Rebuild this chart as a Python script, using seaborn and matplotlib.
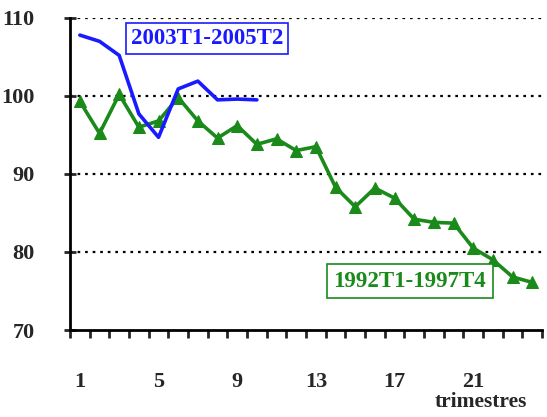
import numpy as np
import pandas as pd
import matplotlib
matplotlib.use("Agg")
import matplotlib.pyplot as plt
import seaborn as sns

# Data
quarters_green = list(range(1, 25))
green_values = [99.3, 95.2, 100.2, 96.0, 96.8, 99.8, 96.8, 94.6, 96.2, 93.8, 94.5, 93.0,
                93.5, 88.3, 85.8, 88.2, 86.9, 84.2, 83.8, 83.7, 80.5, 79.0, 76.8, 76.1]
quarters_blue = list(range(1, 11))
blue_values = [107.8, 107.0, 105.2, 97.7, 94.7, 100.9, 101.9, 99.5, 99.6, 99.5]
label_green = "1992T1-1997T4"
label_blue = "2003T1-2005T2"
x_ticks = [1, 5, 9, 13, 17, 21]
y_ticks = [70, 80, 90, 100, 110]

sns.set_style("white")
plt.rcParams['font.family'] = ['Liberation Serif', 'DejaVu Serif']

green_c = "#1a8a1a"
blue_c = "#1a1aff"

fig = plt.figure(figsize=(5.47, 4.17), dpi=100)
ax = fig.add_axes([0.128, 0.2086, 0.863, 0.7484])

df_g = pd.DataFrame({"q": quarters_green, "v": green_values})
df_b = pd.DataFrame({"q": quarters_blue, "v": blue_values})

for y in [80, 90, 100, 110]:
    ax.axhline(y, color="black", linestyle=(0, (1.2, 2.2)), linewidth=1.6, zorder=0)

sns.lineplot(data=df_g, x="q", y="v", ax=ax, color=green_c, linewidth=2.6,
             marker="^", markersize=9, markeredgecolor=green_c, zorder=3)
sns.lineplot(data=df_b, x="q", y="v", ax=ax, color=blue_c, linewidth=2.6, zorder=4)

ax.set_xlim(0.5, 24.5)
ax.set_ylim(70, 110)
ax.set_xlabel("")
ax.set_ylabel("")

for s in ["top", "right"]:
    ax.spines[s].set_visible(False)
ax.spines["left"].set_linewidth(2)
ax.spines["bottom"].set_linewidth(2)
ax.spines["left"].set_color("black")
ax.spines["bottom"].set_color("black")

ax.set_yticks(y_ticks)
ax.set_yticklabels([str(v) for v in y_ticks], fontsize=16, fontweight="bold")
ax.tick_params(axis="y", direction="inout", length=9, width=2, pad=21, left=True)

ax.set_xticks(x_ticks)
ax.set_xticklabels([str(v) for v in x_ticks], fontsize=16, fontweight="bold")
ax.set_xticks(np.arange(0.5, 25, 1), minor=True)
ax.tick_params(axis="x", which="major", length=0, pad=30)
ax.tick_params(axis="x", which="minor", direction="out", length=6, width=2, bottom=True)

ax.text(0.871, -0.246, "trimestres", transform=ax.transAxes, ha="center", va="baseline",
        fontsize=15.5, fontweight="bold")

ax.text(0.290, 0.934, label_blue, transform=ax.transAxes, ha="center", va="center",
        fontsize=16.5, fontweight="bold", color=blue_c,
        bbox=dict(boxstyle="square,pad=0.22", facecolor="white", edgecolor=blue_c, linewidth=1.2))
ax.text(0.720, 0.157, label_green, transform=ax.transAxes, ha="center", va="center",
        fontsize=16.5, fontweight="bold", color=green_c,
        bbox=dict(boxstyle="square,pad=0.3", facecolor="white", edgecolor=green_c, linewidth=1.2))

fig.savefig("out.png", dpi=100)
